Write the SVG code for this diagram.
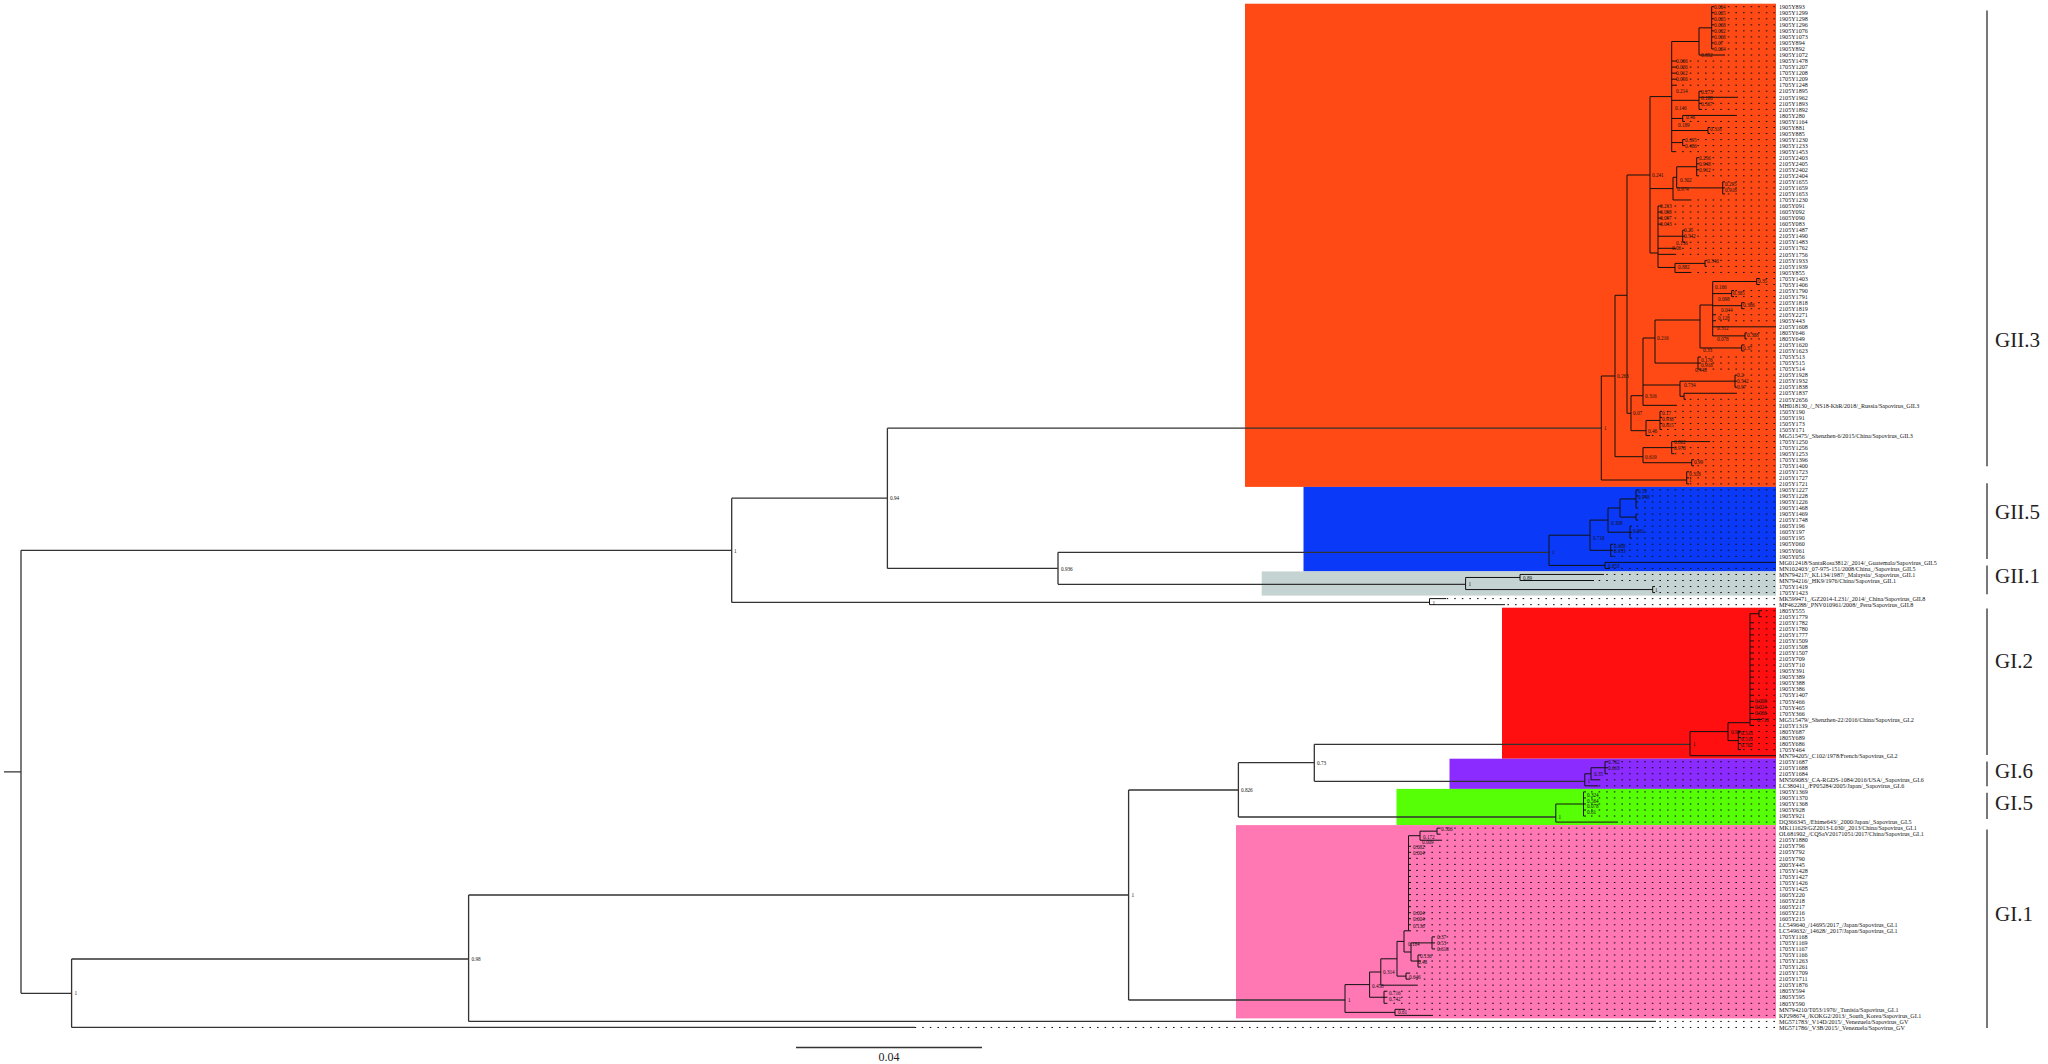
<svg xmlns="http://www.w3.org/2000/svg" width="2048" height="1064" viewBox="0 0 2048 1064">
<style>
.bb{stroke:#333;stroke-width:1.3;fill:none}
.br{stroke:#111;stroke-width:1;fill:none}
.dt{stroke:#111;stroke-width:1;stroke-dasharray:1.6 6;fill:none}
.lf{font-family:"Liberation Serif",serif;font-size:6.1px;fill:#111}
.nl{font-family:"Liberation Serif",serif;font-size:5.2px;fill:#111}
.cl{font-family:"Liberation Serif",serif;font-size:21px;fill:#222}
.cb{stroke:#555;stroke-width:1.6;fill:none}
</style>
<rect width="2048" height="1064" fill="#fff"/>
<g id="clade-rects">
<rect x="1245" y="3.7" width="531" height="483.2" fill="#FF4A15"/>
<rect x="1303.5" y="486.9" width="472.5" height="84.5" fill="#0A3AF8"/>
<rect x="1261.7" y="571.4" width="514.3" height="24.2" fill="#C6D3D3"/>
<rect x="1502" y="607.7" width="274" height="151" fill="#FF0F0F"/>
<rect x="1449.5" y="758.7" width="326.5" height="30.2" fill="#8B2BFF"/>
<rect x="1396.5" y="788.9" width="379.5" height="36.2" fill="#56FF05"/>
<rect x="1236" y="825.1" width="540" height="193.3" fill="#FF78B4"/>
</g>
<g id="guides">
<path class="dt" d="M1775 6.7H1713M1775 12.74H1713M1775 18.78H1713M1775 24.82H1713M1775 30.86H1713M1775 36.9H1713M1775 42.94H1713M1775 48.98H1713M1775 55.02H1725M1775 61.06H1677M1775 67.1H1677M1775 73.14H1677M1775 79.18H1677M1775 85.22H1677M1775 91.26H1702M1775 97.3H1738M1775 103.34H1702M1775 109.38H1702M1775 115.42H1737M1775 121.46H1685M1775 127.5H1710M1775 133.54H1710M1775 139.58H1685M1775 145.62H1685M1775 151.66H1676M1775 157.7H1699M1775 163.74H1699M1775 169.78H1699M1775 175.82H1699M1775 181.86H1725M1775 187.9H1725M1775 193.94H1725M1775 199.98H1690M1775 206.02H1662M1775 212.06H1662M1775 218.1H1662M1775 224.14H1662M1775 230.18H1685M1775 236.22H1685M1775 242.26H1685M1775 248.3H1675M1775 254.34H1675M1775 260.38H1707M1775 266.42H1707M1775 272.46H1690M1775 278.5H1759M1775 284.54H1759M1775 290.58H1734M1775 296.62H1734M1775 302.66H1744M1775 308.7H1744M1775 314.74H1716M1775 320.78H1716M1775 332.86H1747M1775 338.9H1747M1775 344.94H1744M1775 350.98H1744M1775 357.02H1701M1775 363.06H1701M1775 369.1H1701M1775 375.14H1737M1775 381.18H1737M1775 387.22H1737M1775 393.26H1737M1775 399.3H1686M1775 405.34H1677M1775 411.38H1662M1775 417.42H1662M1775 423.46H1662M1775 429.5H1662M1775 435.54H1650M1775 441.58H1710M1775 447.62H1674M1775 453.66H1674M1775 459.7H1694M1775 465.74H1694M1775 471.78H1689M1775 477.82H1689M1775 483.86H1689"/>
<path class="dt" d="M1775 489.9H1638M1775 495.94H1638M1775 501.98H1638M1775 508.02H1638M1775 514.06H1638M1775 520.1H1638M1775 526.14H1632M1775 532.18H1632M1775 538.22H1632M1775 544.26H1613M1775 550.3H1613M1775 556.34H1613M1775 568.42H1610M1775 574.46H1604M1775 580.5H1594M1775 586.54H1655M1775 592.58H1655M1775 598.62H1446M1775 604.66H1505"/>
<path class="dt" d="M1775 610.7H1762M1775 616.74H1762M1775 622.78H1754M1775 628.82H1754M1775 634.86H1754M1775 640.9H1754M1775 646.94H1754M1775 652.98H1754M1775 659.02H1754M1775 665.06H1754M1775 671.1H1754M1775 677.14H1754M1775 683.18H1754M1775 689.22H1754M1775 695.26H1754M1775 701.3H1754M1775 707.34H1754M1775 713.38H1754M1775 719.42H1762M1775 725.46H1754M1775 731.5H1741M1775 737.54H1741M1775 743.58H1741M1775 749.62H1741M1775 761.7H1608M1775 767.74H1608M1775 773.78H1608M1775 779.82H1600M1775 785.86H1598M1775 791.9H1586M1775 797.94H1586M1775 803.98H1586M1775 810.02H1586M1775 816.06H1586M1775 822.1H1618"/>
<path class="dt" d="M1775 828.14H1440M1775 834.18H1440M1775 840.22H1442M1775 846.26H1411M1775 852.3H1411M1775 858.34H1411M1775 864.38H1411M1775 870.42H1411M1775 876.46H1411M1775 882.5H1411M1775 888.54H1411M1775 894.58H1411M1775 900.62H1411M1775 906.66H1411M1775 912.7H1411M1775 918.74H1411M1775 924.78H1411M1775 930.82H1411M1775 936.86H1435M1775 942.9H1435M1775 948.94H1435M1775 954.98H1421M1775 961.02H1421M1775 967.06H1421M1775 973.1H1409M1775 979.14H1409M1775 985.18H1417M1775 991.22H1387M1775 997.26H1387M1775 1003.3H1387M1775 1009.34H1405M1775 1015.38H1433M1775 1021.42H1656M1775 1027.46H915"/>
</g>
<g id="connectors">
<path class="bb" d="M4 771.85H21M21 550.3V993.3M21 550.3H731.7M731.7 498.2V602.4M731.7 498.2H887.4M887.4 428.2V568.4M887.4 428.2H1601.3M887.4 568.4H1058M1058 552.3V584.3M1058 552.3H1549M1058 584.3H1465.6M731.7 602.4H1429.5M21 993.3H71.6M71.6 959V1027.46M71.6 959H468.6M71.6 1027.46H915M468.6 895V1021.42M468.6 1021.42H1656M468.6 895H1128.6M1128.6 790V1000M1128.6 790H1238.4M1238.4 762.7V817M1238.4 762.7H1314.3M1314.3 744.3V781.3M1314.3 744.3H1690M1314.3 781.3H1584.8M1238.4 817H1555.8M1128.6 1000H1345"/>
<path class="br" d="M1601.3 376V480M1601.3 480H1686.7M1686.7 471.78V483.86M1686.7 471.78H1689M1686.7 477.82H1689M1686.7 483.86H1689M1601.3 376H1615M1615 295.3V456.7M1615 456.7H1643M1643 447.62V462.72M1643 447.62H1671.7M1671.7 441.58V453.66M1671.7 441.58H1710M1671.7 447.62H1674M1671.7 453.66H1674M1643 462.72H1691.7M1691.7 459.7V465.74M1691.7 459.7H1694M1691.7 465.74H1694M1615 295.3H1627M1627 175V413.3M1627 413.3H1631M1631 395.7V430.7M1631 395.7H1643M1643 338V405.34M1643 405.34H1677M1643 385H1680M1680 381.18V396.28M1680 381.18H1735M1735 375.14V387.22M1735 375.14H1737M1735 381.18H1737M1735 387.22H1737M1680 396.28H1684M1684 393.26V399.3M1684 393.26H1737M1684 399.3H1686M1643 338H1655M1655 320V363.06M1655 320H1700M1700 305V347.96M1700 305H1712.7M1712.7 281.52V335.88M1712.7 281.52H1756.7M1756.7 278.5V284.54M1756.7 278.5H1759M1756.7 284.54H1759M1712.7 293.6H1731.7M1731.7 290.58V296.62M1731.7 290.58H1734M1731.7 296.62H1734M1712.7 305.68H1741.7M1741.7 302.66V308.7M1741.7 302.66H1744M1741.7 308.7H1744M1712.7 314.74H1716M1712.7 320.78H1716M1712.7 326.82H1776M1712.7 335.88H1745M1745 332.86V338.9M1745 332.86H1747M1745 338.9H1747M1700 347.96H1741.7M1741.7 344.94V350.98M1741.7 344.94H1744M1741.7 350.98H1744M1655 363.06H1698M1698 357.02V369.1M1698 357.02H1701M1698 363.06H1701M1698 369.1H1701M1631 430.7H1646M1646 420.44V435.54M1646 420.44H1660M1660 411.38V429.5M1660 411.38H1662M1660 417.42H1662M1660 423.46H1662M1660 429.5H1662M1646 435.54H1650M1627 175H1650M1650 96.6V253M1650 96.6H1671.7M1671.7 41.5V151.66M1671.7 41.5H1699M1699 27.84V55.02M1699 27.84H1711.7M1711.7 6.7V48.98M1711.7 6.7H1713M1711.7 12.74H1713M1711.7 18.78H1713M1711.7 24.82H1713M1711.7 30.86H1713M1711.7 36.9H1713M1711.7 42.94H1713M1711.7 48.98H1713M1699 55.02H1725M1671.7 61.06H1677M1671.7 67.1H1677M1671.7 73.14H1677M1671.7 79.18H1677M1671.7 85.22H1677M1671.7 100.32H1699M1699 91.26V109.38M1699 91.26H1702M1699 97.3H1738M1699 103.34H1702M1699 109.38H1702M1671.7 118.44H1682.7M1682.7 115.42V121.46M1682.7 115.42H1737M1682.7 121.46H1685M1671.7 130.52H1708M1708 127.5V133.54M1708 127.5H1710M1708 133.54H1710M1671.7 142.6H1682.7M1682.7 139.58V145.62M1682.7 139.58H1685M1682.7 145.62H1685M1671.7 151.66H1676M1650 188.6H1673M1673 177.3V199.98M1673 177.3H1676.7M1676.7 166.76V187.9M1676.7 166.76H1696.7M1696.7 157.7V175.82M1696.7 157.7H1699M1696.7 163.74H1699M1696.7 169.78H1699M1696.7 175.82H1699M1676.7 187.9H1722.7M1722.7 181.86V193.94M1722.7 181.86H1725M1722.7 187.9H1725M1722.7 193.94H1725M1673 199.98H1690M1650 253H1658M1658 206.02V267.44M1658 206.02H1662M1658 212.06H1662M1658 218.1H1662M1658 224.14H1662M1658 236.22H1682.7M1682.7 230.18V242.26M1682.7 230.18H1685M1682.7 236.22H1685M1682.7 242.26H1685M1658 248.3H1675M1658 254.34H1675M1658 267.44H1675M1675 263.4V272.46M1675 263.4H1705M1705 260.38V266.42M1705 260.38H1707M1705 266.42H1707M1675 272.46H1690"/>
<path class="br" d="M1549 535.2V565.4M1549 535.2H1590M1590 520.1V550.3M1590 520.1H1608M1608 508V532.2M1608 508H1620M1620 498.96V517.08M1620 498.96H1636M1636 489.9V508.02M1636 489.9H1638M1636 495.94H1638M1636 501.98H1638M1636 508.02H1638M1620 517.08H1636M1636 514.06V520.1M1636 514.06H1638M1636 520.1H1638M1608 532.2H1630M1630 526.14V538.22M1630 526.14H1632M1630 532.18H1632M1630 538.22H1632M1590 550.3H1610.7M1610.7 544.26V556.34M1610.7 544.26H1613M1610.7 550.3H1613M1610.7 556.34H1613M1549 565.4H1605M1605 562.38V568.42M1605 562.38H1776M1605 568.42H1610M1465.6 577.48V589.56M1465.6 577.48H1520M1520 574.46V580.5M1520 574.46H1604M1520 580.5H1594M1465.6 589.56H1652.7M1652.7 586.54V592.58M1652.7 586.54H1655M1652.7 592.58H1655M1429.5 598.62V604.66M1429.5 598.62H1446M1429.5 604.66H1505"/>
<path class="br" d="M1690 731.6V755.66M1690 755.66H1776M1690 731.6H1728M1728 722.7V740.6M1728 722.7H1750M1750 613.72V725.46M1750 613.72H1759M1759 610.7V616.74M1759 610.7H1762M1759 616.74H1762M1750 622.78H1754M1750 628.82H1754M1750 634.86H1754M1750 640.9H1754M1750 646.94H1754M1750 652.98H1754M1750 659.02H1754M1750 665.06H1754M1750 671.1H1754M1750 677.14H1754M1750 683.18H1754M1750 689.22H1754M1750 695.26H1754M1750 701.3H1754M1750 707.34H1754M1750 713.38H1754M1750 719.42H1762M1750 725.46H1754M1728 740.6H1738.3M1738.3 731.5V749.62M1738.3 731.5H1741M1738.3 737.54H1741M1738.3 743.58H1741M1738.3 749.62H1741M1584.8 773.8V785.86M1584.8 773.8H1591M1591 767.74V779.82M1591 767.74H1605M1605 761.7V773.78M1605 761.7H1608M1605 767.74H1608M1605 773.78H1608M1591 779.82H1600M1584.8 785.86H1598M1555.8 804V822.1M1555.8 804H1583.5M1583.5 791.9V816.06M1583.5 791.9H1586M1583.5 797.94H1586M1583.5 803.98H1586M1583.5 810.02H1586M1583.5 816.06H1586M1555.8 822.1H1618"/>
<path class="br" d="M1345 984.6V1012.36M1345 1012.36H1395M1395 1009.34V1015.38M1395 1009.34H1405M1395 1015.38H1433M1345 984.6H1369.6M1369.6 972V997.26M1369.6 997.26H1384M1384 991.22V1003.3M1384 991.22H1387M1384 997.26H1387M1384 1003.3H1387M1369.6 972H1380.8M1380.8 958.8V985.18M1380.8 985.18H1417M1380.8 958.8H1397M1397 941.4V976.12M1397 976.12H1406M1406 973.1V979.14M1406 973.1H1409M1406 979.14H1409M1397 941.4H1404M1404 930.82V952M1404 930.82H1408.5M1408.5 835.7V930.82M1408.5 835.7H1420M1420 831.16V840.22M1420 831.16H1437M1437 828.14V834.18M1437 828.14H1440M1437 834.18H1440M1420 840.22H1442M1408.5 846.26H1411M1408.5 852.3H1411M1408.5 858.34H1411M1408.5 864.38H1411M1408.5 870.42H1411M1408.5 876.46H1411M1408.5 882.5H1411M1408.5 888.54H1411M1408.5 894.58H1411M1408.5 900.62H1411M1408.5 906.66H1411M1408.5 912.7H1411M1408.5 918.74H1411M1408.5 924.78H1411M1408.5 930.82H1411M1404 952H1411M1411 942.9V961.04M1411 942.9H1432M1432 936.86V948.94M1432 936.86H1435M1432 942.9H1435M1432 948.94H1435M1411 961.04H1418M1418 954.98V967.06M1418 954.98H1421M1418 961.02H1421M1418 967.06H1421"/>
</g>
<g id="node-labels" class="nl">
<text x="734" y="552.5">1</text><text x="890" y="500.3">0.94</text><text x="1061" y="570.5">0.936</text><text x="74.5" y="995.4">1</text><text x="471.5" y="961">0.98</text><text x="1131.5" y="897">1</text><text x="1241" y="792">0.826</text><text x="1317" y="764.5">0.73</text>
<text x="1604" y="430.3">1</text><text x="1617" y="378">0.263</text><text x="1652" y="177">0.241</text><text x="1657" y="340">0.216</text><text x="1633" y="415">0.07</text><text x="1645" y="397.5">0.316</text><text x="1648" y="432.5">0.46</text><text x="1645" y="458.5">0.619</text>
<text x="1714" y="8.7">0.004</text><text x="1714" y="14.7">0.005</text><text x="1714" y="20.8">0.005</text><text x="1714" y="26.8">0.008</text><text x="1714" y="32.9">0.002</text><text x="1714" y="38.9">0.008</text><text x="1714" y="44.9">0.07</text><text x="1714" y="51">0.004</text><text x="1701" y="57">0.852</text>
<text x="1676" y="63">0.066</text><text x="1676" y="69">0.026</text><text x="1676" y="75">0.012</text><text x="1676" y="81">0.056</text><text x="1676" y="93">0.214</text><text x="1701" y="93.5">0.273</text><text x="1701" y="99.5">0.188</text><text x="1701" y="105.5">0.567</text><text x="1675" y="110">0.146</text><text x="1686" y="119">0.46</text><text x="1678" y="127">0.189</text><text x="1710" y="131">0.318</text><text x="1685" y="141.5">0.395</text><text x="1685" y="148">0.486</text>
<text x="1699" y="160">0.256</text><text x="1699" y="166">0.948</text><text x="1699" y="172">0.912</text><text x="1680" y="182">0.302</text><text x="1725" y="186">0.295</text><text x="1725" y="192">0.918</text><text x="1677" y="191">0.974</text>
<text x="1660" y="208">0.213</text><text x="1660" y="214">0.098</text><text x="1660" y="220">0.097</text><text x="1660" y="226">0.043</text><text x="1684" y="232">0.25</text><text x="1684" y="238">0.542</text><text x="1676" y="245">0.136</text><text x="1672" y="250">0.06</text><text x="1678" y="269">0.882</text><text x="1707" y="263">0.346</text>
<text x="1758" y="283">0.35</text><text x="1715" y="289">0.166</text><text x="1733" y="295">0.385</text><text x="1718" y="301">0.098</text><text x="1743" y="307">0.386</text><text x="1721" y="312">0.044</text><text x="1718" y="320">0.128</text><text x="1717" y="330">0.312</text><text x="1747" y="337">0.388</text><text x="1717" y="341">0.078</text><text x="1703" y="352">0.33</text><text x="1743" y="349.5">0.37</text><text x="1701" y="362">0.176</text><text x="1701" y="367">0.918</text><text x="1695" y="372">0.448</text><text x="1684" y="387">0.734</text><text x="1737" y="377">0.2</text><text x="1737" y="383">0.542</text><text x="1737" y="389">0.97</text>
<text x="1662" y="415">0.17</text><text x="1662" y="421">0.938</text><text x="1662" y="427">0.815</text><text x="1674" y="444">0.862</text><text x="1674" y="450">0.978</text><text x="1694" y="464">0.99</text><text x="1689" y="476">0.318</text><text x="1689" y="482">1</text>
<text x="1552" y="554.4">1</text><text x="1593" y="540">0.716</text><text x="1611" y="525">0.308</text><text x="1638" y="493">0.59</text><text x="1638" y="499">0.948</text><text x="1633" y="533">0.961</text><text x="1614" y="548">0.968</text><text x="1614" y="553">0.953</text><text x="1608" y="568">0.853</text>
<text x="1468.5" y="586.4">1</text><text x="1523" y="580">0.89</text><text x="1655" y="591.5">1</text><text x="1432.5" y="604.5">1</text>
<text x="1693" y="746.4">1</text><text x="1731" y="734">0.99</text><text x="1757" y="722">0.718</text><text x="1741" y="735">0.518</text><text x="1741" y="741">0.518</text><text x="1741" y="747">0.702</text><text x="1755" y="703">0.008</text><text x="1755" y="709">0.024</text><text x="1755" y="715">0.066</text>
<text x="1587.5" y="783.4">1</text><text x="1594" y="776">0.35</text><text x="1608" y="764">0.762</text><text x="1608" y="769.5">0.618</text>
<text x="1558.5" y="819">1</text><text x="1587" y="797">0.324</text><text x="1587" y="802.5">0.564</text><text x="1587" y="808">0.078</text><text x="1587" y="813.5">0.61</text>
<text x="1348" y="1002">1</text><text x="1398" y="1014">0.61</text><text x="1372" y="988">0.458</text><text x="1389" y="995">0.716</text><text x="1389" y="1001">0.742</text><text x="1383" y="974">0.314</text><text x="1409" y="978.5">0.646</text><text x="1408" y="946">0.184</text><text x="1437" y="939">0.37</text><text x="1437" y="945">0.53</text><text x="1437" y="951">0.618</text><text x="1420" y="958">0.136</text><text x="1418" y="964">0.48</text>
<text x="1441" y="831">0.506</text><text x="1423" y="838.5">0.172</text><text x="1422" y="843.5">0.009</text><text x="1413" y="849">0.082</text><text x="1413" y="855">0.004</text><text x="1413" y="915">0.004</text><text x="1413" y="921">0.004</text><text x="1413" y="927.5">0.136</text>
</g>
<g id="leaves-GII3" class="lf">
<text x="1779" y="8.9"><tspan x="1779">1905Y893</tspan><tspan x="1779" dy="6.04">1905Y1299</tspan><tspan x="1779" dy="6.04">1905Y1298</tspan><tspan x="1779" dy="6.04">1905Y1296</tspan><tspan x="1779" dy="6.04">1905Y1076</tspan><tspan x="1779" dy="6.04">1905Y1073</tspan><tspan x="1779" dy="6.04">1905Y894</tspan><tspan x="1779" dy="6.04">1905Y892</tspan><tspan x="1779" dy="6.04">1905Y1072</tspan><tspan x="1779" dy="6.04">1905Y1478</tspan><tspan x="1779" dy="6.04">1705Y1207</tspan><tspan x="1779" dy="6.04">1705Y1208</tspan><tspan x="1779" dy="6.04">1705Y1209</tspan><tspan x="1779" dy="6.04">1705Y1248</tspan><tspan x="1779" dy="6.04">2105Y1895</tspan><tspan x="1779" dy="6.04">2105Y1962</tspan><tspan x="1779" dy="6.04">2105Y1893</tspan><tspan x="1779" dy="6.04">2105Y1892</tspan><tspan x="1779" dy="6.04">1805Y280</tspan><tspan x="1779" dy="6.04">1905Y1164</tspan><tspan x="1779" dy="6.04">1905Y881</tspan><tspan x="1779" dy="6.04">1905Y885</tspan><tspan x="1779" dy="6.04">1905Y1230</tspan><tspan x="1779" dy="6.04">1905Y1233</tspan><tspan x="1779" dy="6.04">1905Y1453</tspan><tspan x="1779" dy="6.04">2105Y2403</tspan><tspan x="1779" dy="6.04">2105Y2405</tspan><tspan x="1779" dy="6.04">2105Y2402</tspan><tspan x="1779" dy="6.04">2105Y2404</tspan><tspan x="1779" dy="6.04">2105Y1655</tspan><tspan x="1779" dy="6.04">2105Y1659</tspan><tspan x="1779" dy="6.04">2105Y1653</tspan><tspan x="1779" dy="6.04">1705Y1230</tspan><tspan x="1779" dy="6.04">1605Y091</tspan><tspan x="1779" dy="6.04">1605Y092</tspan><tspan x="1779" dy="6.04">1605Y090</tspan><tspan x="1779" dy="6.04">1605Y083</tspan><tspan x="1779" dy="6.04">2105Y1487</tspan><tspan x="1779" dy="6.04">2105Y1490</tspan><tspan x="1779" dy="6.04">2105Y1483</tspan><tspan x="1779" dy="6.04">2105Y1762</tspan><tspan x="1779" dy="6.04">2105Y1756</tspan><tspan x="1779" dy="6.04">2105Y1933</tspan><tspan x="1779" dy="6.04">2105Y1939</tspan><tspan x="1779" dy="6.04">1905Y855</tspan><tspan x="1779" dy="6.04">1705Y1403</tspan><tspan x="1779" dy="6.04">1705Y1406</tspan><tspan x="1779" dy="6.04">2105Y1790</tspan><tspan x="1779" dy="6.04">2105Y1791</tspan><tspan x="1779" dy="6.04">2105Y1818</tspan><tspan x="1779" dy="6.04">2105Y1819</tspan><tspan x="1779" dy="6.04">2105Y2271</tspan><tspan x="1779" dy="6.04">1905Y443</tspan><tspan x="1779" dy="6.04">2105Y1608</tspan><tspan x="1779" dy="6.04">1805Y646</tspan><tspan x="1779" dy="6.04">1805Y649</tspan><tspan x="1779" dy="6.04">2105Y1620</tspan><tspan x="1779" dy="6.04">2105Y1623</tspan><tspan x="1779" dy="6.04">1705Y513</tspan><tspan x="1779" dy="6.04">1705Y515</tspan><tspan x="1779" dy="6.04">1705Y514</tspan><tspan x="1779" dy="6.04">2105Y1928</tspan><tspan x="1779" dy="6.04">2105Y1932</tspan><tspan x="1779" dy="6.04">2105Y1838</tspan><tspan x="1779" dy="6.04">2105Y1837</tspan><tspan x="1779" dy="6.04">2105Y2656</tspan><tspan x="1779" dy="6.04">MH018130_/_NS18-KhR/2018/_Russia/Sapovirus_GII.3</tspan><tspan x="1779" dy="6.04">1505Y190</tspan><tspan x="1779" dy="6.04">1505Y191</tspan><tspan x="1779" dy="6.04">1505Y173</tspan><tspan x="1779" dy="6.04">1505Y171</tspan><tspan x="1779" dy="6.04">MG515475/_Shenzhen-6/2015/China/Sapovirus_GII.3</tspan><tspan x="1779" dy="6.04">1705Y1250</tspan><tspan x="1779" dy="6.04">1705Y1256</tspan><tspan x="1779" dy="6.04">1905Y1253</tspan><tspan x="1779" dy="6.04">1705Y1396</tspan><tspan x="1779" dy="6.04">1705Y1400</tspan><tspan x="1779" dy="6.04">2105Y1723</tspan><tspan x="1779" dy="6.04">2105Y1727</tspan><tspan x="1779" dy="6.04">2105Y1721</tspan></text>
</g>
<g id="leaves-GII5-GII1-GII8" class="lf">
<text x="1779" y="492.1"><tspan x="1779">1905Y1227</tspan><tspan x="1779" dy="6.04">1905Y1228</tspan><tspan x="1779" dy="6.04">1905Y1226</tspan><tspan x="1779" dy="6.04">1905Y1468</tspan><tspan x="1779" dy="6.04">1905Y1469</tspan><tspan x="1779" dy="6.04">2105Y1748</tspan><tspan x="1779" dy="6.04">1605Y196</tspan><tspan x="1779" dy="6.04">1605Y197</tspan><tspan x="1779" dy="6.04">1605Y195</tspan><tspan x="1779" dy="6.04">1905Y060</tspan><tspan x="1779" dy="6.04">1905Y061</tspan><tspan x="1779" dy="6.04">1905Y056</tspan><tspan x="1779" dy="6.04">MG012418/SantaRosa3812/_2014/_Guatemala/Sapovirus_GII.5</tspan><tspan x="1779" dy="6.04">MN102403/_07-975-151/2008/China_/Sapovirus_GII.5</tspan><tspan x="1779" dy="6.04">MN794217/_KL134/1987/_Malaysia/_Sapovirus_GII.1</tspan><tspan x="1779" dy="6.04">MN794216/_HK9/1976/China/Sapovirus_GII.1</tspan><tspan x="1779" dy="6.04">1705Y1419</tspan><tspan x="1779" dy="6.04">1705Y1423</tspan><tspan x="1779" dy="6.04">MK599471_/GZ2014-L231/_2014/_China/Sapovirus_GII.8</tspan><tspan x="1779" dy="6.04">MF462288/_PNV010961/2008/_Peru/Sapovirus_GII.8</tspan></text>
</g>
<g id="leaves-GI" class="lf">
<text x="1779" y="612.9"><tspan x="1779">1805Y555</tspan><tspan x="1779" dy="6.04">2105Y1779</tspan><tspan x="1779" dy="6.04">2105Y1782</tspan><tspan x="1779" dy="6.04">2105Y1780</tspan><tspan x="1779" dy="6.04">2105Y1777</tspan><tspan x="1779" dy="6.04">2105Y1509</tspan><tspan x="1779" dy="6.04">2105Y1508</tspan><tspan x="1779" dy="6.04">2105Y1507</tspan><tspan x="1779" dy="6.04">2105Y709</tspan><tspan x="1779" dy="6.04">2105Y710</tspan><tspan x="1779" dy="6.04">1905Y391</tspan><tspan x="1779" dy="6.04">1905Y389</tspan><tspan x="1779" dy="6.04">1905Y388</tspan><tspan x="1779" dy="6.04">1905Y386</tspan><tspan x="1779" dy="6.04">1705Y1407</tspan><tspan x="1779" dy="6.04">1705Y466</tspan><tspan x="1779" dy="6.04">1705Y465</tspan><tspan x="1779" dy="6.04">1705Y366</tspan><tspan x="1779" dy="6.04">MG515479/_Shenzhen-22/2016/China/Sapovirus_GI.2</tspan><tspan x="1779" dy="6.04">2105Y1319</tspan><tspan x="1779" dy="6.04">1805Y687</tspan><tspan x="1779" dy="6.04">1805Y689</tspan><tspan x="1779" dy="6.04">1805Y686</tspan><tspan x="1779" dy="6.04">1705Y464</tspan><tspan x="1779" dy="6.04">MN794205/_C102/1978/French/Sapovirus_GI.2</tspan><tspan x="1779" dy="6.04">2105Y1687</tspan><tspan x="1779" dy="6.04">2105Y1688</tspan><tspan x="1779" dy="6.04">2105Y1684</tspan><tspan x="1779" dy="6.04">MN509083/_CA-RGDS-1084/2016/USA/_Sapovirus_GI.6</tspan><tspan x="1779" dy="6.04">LC380411_/FP05284/2005/Japan/_Sapovirus_GI.6</tspan><tspan x="1779" dy="6.04">1905Y1369</tspan><tspan x="1779" dy="6.04">1905Y1370</tspan><tspan x="1779" dy="6.04">1905Y1368</tspan><tspan x="1779" dy="6.04">1905Y928</tspan><tspan x="1779" dy="6.04">1905Y921</tspan><tspan x="1779" dy="6.04">DQ366345_/Ehime643/_2000/Japan/_Sapovirus_GI.5</tspan><tspan x="1779" dy="6.04">MK111629/GZ2013-L030/_2013/China/Sapovirus_GI.1</tspan><tspan x="1779" dy="6.04">OL681902_/CQSaV20171051/2017/China/Sapovirus_GI.1</tspan><tspan x="1779" dy="6.04">2105Y1880</tspan><tspan x="1779" dy="6.04">2105Y796</tspan><tspan x="1779" dy="6.04">2105Y792</tspan><tspan x="1779" dy="6.04">2105Y790</tspan><tspan x="1779" dy="6.04">2005Y445</tspan><tspan x="1779" dy="6.04">1705Y1428</tspan><tspan x="1779" dy="6.04">1705Y1427</tspan><tspan x="1779" dy="6.04">1705Y1426</tspan><tspan x="1779" dy="6.04">1705Y1425</tspan><tspan x="1779" dy="6.04">1605Y220</tspan><tspan x="1779" dy="6.04">1605Y218</tspan><tspan x="1779" dy="6.04">1605Y217</tspan><tspan x="1779" dy="6.04">1605Y216</tspan><tspan x="1779" dy="6.04">1605Y215</tspan><tspan x="1779" dy="6.04">LC549640_/14695/2017_/Japan/Sapovirus_GI.1</tspan><tspan x="1779" dy="6.04">LC549632/_14628/_2017/Japan/Sapovirus_GI.1</tspan><tspan x="1779" dy="6.04">1705Y1168</tspan><tspan x="1779" dy="6.04">1705Y1169</tspan><tspan x="1779" dy="6.04">1705Y1167</tspan><tspan x="1779" dy="6.04">1705Y1166</tspan><tspan x="1779" dy="6.04">1705Y1263</tspan><tspan x="1779" dy="6.04">1705Y1261</tspan><tspan x="1779" dy="6.04">2105Y1709</tspan><tspan x="1779" dy="6.04">2105Y1711</tspan><tspan x="1779" dy="6.04">2105Y1876</tspan><tspan x="1779" dy="6.04">1805Y594</tspan><tspan x="1779" dy="6.04">1805Y595</tspan><tspan x="1779" dy="6.04">1805Y590</tspan><tspan x="1779" dy="6.04">MN794210/T053/1976/_Tunisia/Sapovirus_GI.1</tspan><tspan x="1779" dy="6.04">KP298674_/KOKG2/2013/_South_Korea/Sapovirus_GI.1</tspan><tspan x="1779" dy="6.04">MG571783/_V14D/2015/_Venezuela/Sapovirus_GV</tspan><tspan x="1779" dy="6.04">MG571786/_V3B/2015/_Venezuela/Sapovirus_GV</tspan></text>
</g>
<g id="clade-GII3"><path class="cb" d="M1987 10.4V466.3"/><text class="cl" x="1995" y="347">GII.3</text></g>
<g id="clade-GII5"><path class="cb" d="M1987 483.3V559"/><text class="cl" x="1995" y="519">GII.5</text></g>
<g id="clade-GII1"><path class="cb" d="M1987 565.5V594.3"/><text class="cl" x="1995" y="583">GII.1</text></g>
<g id="clade-GI2"><path class="cb" d="M1987 608.6V755"/><text class="cl" x="1995" y="668">GI.2</text></g>
<g id="clade-GI6"><path class="cb" d="M1987 761.5V786.3"/><text class="cl" x="1995" y="778">GI.6</text></g>
<g id="clade-GI5"><path class="cb" d="M1987 792.8V819"/><text class="cl" x="1995" y="810">GI.5</text></g>
<g id="clade-GI1"><path class="cb" d="M1987 829.4V1028"/><text class="cl" x="1995" y="921">GI.1</text></g>
<g id="scale-bar"><path class="bb" d="M796 1047.5H982"/><text x="889" y="1061" text-anchor="middle" font-family="Liberation Serif, serif" font-size="12" fill="#222">0.04</text></g>
</svg>
